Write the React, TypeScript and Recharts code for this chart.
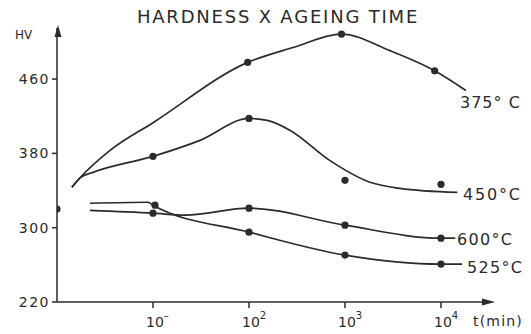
import { ComposedChart, Line, Scatter, XAxis, YAxis } from "recharts"

const INK = "#2b2b2b"
const FONT = "DejaVu Sans"

// ageing time (min) / hardness (HV) along each drawn curve
const t375 = [1.43, 1.75, 3.57, 10, 97, 288, 920, 2950, 8600, 18200]
const hv375 = [343.5, 354, 383.2, 413, 478, 494, 508.5, 490.6, 469, 447.7]

const t450 = [1.43, 1.75, 2.37, 10, 30.9, 100, 155, 269, 692, 1820, 3715, 14800]
const hv450 = [343.5, 354, 359.6, 376.8, 394, 417.6, 415.5, 404.7, 372.5, 349, 342.4, 338]

const t600 = [2.2, 10, 22, 100, 1000, 10000, 14100]
const hv600 = [318.6, 315.6, 313.5, 321, 302.7, 288.7, 288.7]

const t525 = [2.2, 8.9, 10, 100, 1000, 10000, 16600]
const hv525 = [326.3, 327.4, 324.2, 295.2, 270.5, 260.8, 260.8]

// measured points
const dotT = [1, 97, 920, 8600, 10, 100, 1000, 10000, 10, 100, 1000, 10000, 10.5, 100, 1000, 10000]
const dotHv = [320, 478, 508.5, 469, 376.8, 417.6, 351, 346.7, 315.6, 321, 302.7, 288.7, 324.2, 295.2, 270.5, 260.8]

const xTicks = [10, 100, 1000, 10000]
const xExp: Record<number, string> = { 10: "–", 100: "2", 1000: "3", 10000: "4" }
const yTicks = [220, 300, 380, 460]

const zip = (t: number[], hv: number[]) => t.map((v, i) => ({ t: v, hv: hv[i] }))

const curves = [
  { name: "375", points: zip(t375, hv375) },
  { name: "450", points: zip(t450, hv450) },
  { name: "600", points: zip(t600, hv600) },
  { name: "525", points: zip(t525, hv525) },
]
const dots = zip(dotT, dotHv)

function XTick({ x, payload }: any) {
  return (
    <text x={x - 7} y={327} fill={INK} fontSize={14} fontFamily={FONT}>
      10
      <tspan dy={-8} fontSize={10}>{xExp[payload.value]}</tspan>
    </text>
  )
}

export default function App() {
  return (
    <div style={{ position: "absolute", left: 0, top: 0, width: 531, height: 334, background: "#fff" }}>
      <ComposedChart width={531} height={334} margin={{ top: 28, right: 39, bottom: 2, left: 17 }}>
        <XAxis
          type="number"
          dataKey="t"
          scale="log"
          domain={[1, 34000]}
          allowDataOverflow
          ticks={xTicks}
          height={30}
          tickSize={6}
          stroke={INK}
          strokeWidth={1.5}
          tick={<XTick />}
        />
        <YAxis
          type="number"
          dataKey="hv"
          domain={[220, 515]}
          allowDataOverflow
          ticks={yTicks}
          width={40}
          tickSize={5}
          stroke={INK}
          strokeWidth={1.5}
          tick={{ fill: INK, fontSize: 14, fontFamily: FONT, letterSpacing: 1.5 }}
        />
        {curves.map(c => (
          <Line
            key={c.name}
            data={c.points}
            dataKey="hv"
            type="monotone"
            stroke={INK}
            strokeWidth={1.7}
            dot={false}
            isAnimationActive={false}
          />
        ))}
        <Scatter
          data={dots}
          dataKey="hv"
          fill={INK}
          isAnimationActive={false}
          shape={(p: any) => <circle cx={p.cx} cy={p.cy} r={3.6} fill={INK} />}
        />
      </ComposedChart>
      <svg width={531} height={334} style={{ position: "absolute", left: 0, top: 0, pointerEvents: "none" }}>
        <g fill={INK} fontFamily={FONT}>
          <text x={278} y={23} fontSize={18} letterSpacing={1.8} textAnchor="middle">HARDNESS X AGEING TIME</text>
          <text x={15} y={39} fontSize={12}>HV</text>
          <text x={473} y={326} fontSize={14} letterSpacing={1.2}>t(min)</text>
          <text x={460} y={108} fontSize={16} letterSpacing={1}>375° C</text>
          <text x={463} y={200} fontSize={16} letterSpacing={1.8}>450°C</text>
          <text x={457} y={245} fontSize={16} letterSpacing={1.3}>600°C</text>
          <text x={467} y={273} fontSize={16} letterSpacing={1.3}>525°C</text>
          <polygon points="54.5,37 58,25 61.5,37" />
          <polygon points="482,298.5 495,302 482,305.5" />
        </g>
      </svg>
    </div>
  )
}
